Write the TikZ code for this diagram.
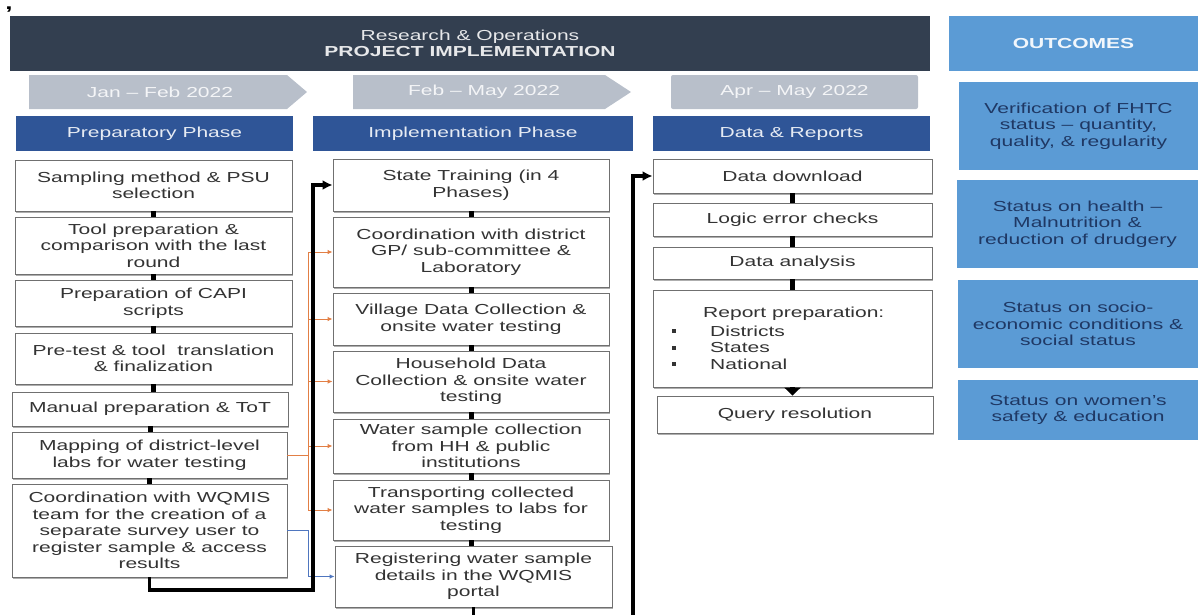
\documentclass[tikz,border=0pt]{standalone}
\usepackage{fontspec}
\setmainfont{Liberation Sans}[FakeStretch=1.45]
\usetikzlibrary{arrows.meta,shadows}
\definecolor{hdrc}{HTML}{333F50}
\definecolor{outc}{HTML}{5B9BD5}
\definecolor{outtxt}{HTML}{1F3864}
\definecolor{datec}{HTML}{B8BFCA}
\definecolor{phasec}{HTML}{2F5597}
\definecolor{boxline}{HTML}{707070}
\definecolor{boxtxt}{HTML}{333333}
\definecolor{orng}{HTML}{E27F45}
\definecolor{blu}{HTML}{4F76BF}
\begin{document}
\begin{tikzpicture}[x=1pt,y=-1pt,
  every node/.style={font={\fontsize{14.5pt}{16.5pt}\selectfont}, inner sep=0pt},
  hdrbox/.style={fill=hdrc, text=white!88!hdrc, align=center},
  outhead/.style={fill=outc, text=white!92!outc, font={\fontsize{14.5pt}{16.5pt}\selectfont\bfseries}},
  outbox/.style={fill=outc, text=outtxt, align=center},
  datetxt/.style={text=white!85!datec},
  phasebox/.style={fill=phasec, text=white!88!phasec},
  stepbox/.style={draw=boxline, line width=0.9pt, fill=white, text=boxtxt, align=center,
     drop shadow={shadow xshift=1pt, shadow yshift=-1.5pt, opacity=0.45, fill=black!70}},
  stub/.style={line width=5pt, draw=black},
  bigline/.style={line width=3.5pt, draw=black, -{Latex[length=10pt,width=10pt]}},
  oline/.style={line width=0.9pt, draw=orng},
  oarrow/.style={line width=0.9pt, draw=orng, -{Latex[length=5pt,width=4.5pt]}},
  barrow/.style={line width=0.9pt, draw=blu, -{Latex[length=5pt,width=4.5pt]}}
]
\useasboundingbox (0,0) rectangle (1200,614);
\clip (0,0) rectangle (1200,614);

% stray comma
\node[font={\fontsize{18pt}{18pt}\selectfont\bfseries}, anchor=north] (comma) at (9,7) {,};

% header
\node[hdrbox, minimum width=920pt, minimum height=55pt] (head) at (470,43.5)
  {Research \& Operations\\\textbf{PROJECT IMPLEMENTATION}};
\node[outhead, minimum width=249pt, minimum height=55pt] (outh) at (1073.5,43.5) {OUTCOMES};

% date arrows
\fill[datec] (29,75) -- (287,75) -- (307,92) -- (287,109) -- (29,109) -- cycle;
\node[datetxt] (d1) at (160,92) {Jan – Feb 2022};
\fill[datec] (353,75) -- (605,75) -- (631,92) -- (605,109) -- (353,109) -- cycle;
\node[datetxt] (d2) at (484,92) {Feb – May 2022};
\fill[datec, rounded corners=2pt] (671,75) rectangle (918,109);
\node[datetxt] (d3) at (794.5,92) {Apr – May 2022};

% phase bars
\node[phasebox, minimum width=277pt, minimum height=35pt] (p1) at (154.5,133.5) {Preparatory Phase};
\node[phasebox, minimum width=320pt, minimum height=35pt] (p2) at (473,133.5) {Implementation Phase};
\node[phasebox, minimum width=277pt, minimum height=35pt] (p3) at (791.5,133.5) {Data \& Reports};

% left column
\node[stepbox, minimum width=277pt, minimum height=51pt] (L1) at (153.5,185.5) {Sampling method \& PSU\\selection};
\node[stepbox, minimum width=277pt, minimum height=57pt] (L2) at (153.5,245.5) {Tool preparation \&\\comparison with the last\\round};
\node[stepbox, minimum width=277pt, minimum height=46pt] (L3) at (153.5,303) {Preparation of CAPI\\scripts};
\node[stepbox, minimum width=277pt, minimum height=51pt] (L4) at (153.5,358.5) {Pre-test \& tool\ \ translation\\\& finalization};
\node[stepbox, minimum width=276pt, minimum height=34pt] (L5) at (150,409) {Manual preparation \& ToT};
\node[stepbox, minimum width=275pt, minimum height=46pt] (L6) at (149.5,455) {Mapping of district-level\\labs for water testing};
\node[stepbox, minimum width=275pt, minimum height=93pt] (L7) at (149.5,530.5) {Coordination with WQMIS\\team for the creation of a\\separate survey user to\\register sample \& access\\results};

% middle column
\node[stepbox, minimum width=276pt, minimum height=52pt] (M1) at (471,185) {State Training (in 4\\Phases)};
\node[stepbox, minimum width=276pt, minimum height=70pt] (M2) at (471,252) {Coordination with district\\GP/ sub-committee \&\\Laboratory};
\node[stepbox, minimum width=276pt, minimum height=52pt] (M3) at (471,319) {Village Data Collection \&\\onsite water testing};
\node[stepbox, minimum width=276pt, minimum height=61pt] (M4) at (471,381.5) {Household Data\\Collection \& onsite water\\testing};
\node[stepbox, minimum width=276pt, minimum height=54pt] (M5) at (471,446) {Water sample collection\\from HH \& public\\institutions};
\node[stepbox, minimum width=276pt, minimum height=60pt] (M6) at (471,510) {Transporting collected\\water samples to labs for\\testing};
\node[stepbox, minimum width=277pt, minimum height=61pt] (M7) at (473.5,576.5) {Registering water sample\\details in the WQMIS\\portal};

% right column
\node[stepbox, minimum width=279pt, minimum height=34pt] (R1) at (792.5,176) {Data download};
\node[stepbox, minimum width=279pt, minimum height=33pt] (R2) at (792.5,219.5) {Logic error checks};
\node[stepbox, minimum width=279pt, minimum height=32pt] (R3) at (792.5,263) {Data analysis};
\node[stepbox, minimum width=279pt, minimum height=97pt] (R4) at (792.5,338.5) {};
\node[text=boxtxt, anchor=west] (R4t) at (703,314) {Report preparation:};
\node[fill=boxtxt, minimum size=4pt] (b1) at (674,331) {};
\node[fill=boxtxt, minimum size=4pt] (b2) at (674,347.5) {};
\node[fill=boxtxt, minimum size=4pt] (b3) at (674,364) {};
\node[text=boxtxt, anchor=west] (r41) at (710,331) {Districts};
\node[text=boxtxt, anchor=west] (r42) at (710,347.5) {States};
\node[text=boxtxt, anchor=west] (r43) at (710,364) {National};
\node[stepbox, minimum width=276pt, minimum height=37pt] (R5) at (795,414.5) {Query resolution};

% outcomes
\node[outbox, minimum width=239pt, minimum height=88pt] (O1) at (1078.5,126) {Verification of FHTC\\status – quantity,\\quality, \& regularity};
\node[outbox, minimum width=241pt, minimum height=88pt] (O2) at (1077.5,224) {Status on health –\\Malnutrition \&\\reduction of drudgery};
\node[outbox, minimum width=240pt, minimum height=88pt] (O3) at (1078,324) {Status on socio-\\economic conditions \&\\social status};
\node[outbox, minimum width=240pt, minimum height=60pt] (O4) at (1078,410) {Status on women’s\\safety \& education};

% stubs (vertical, from the upper box's centre)
\foreach \a/\b in {L1/L2,L2/L3,L3/L4,L4/L5,L5/L6,L6/L7,M1/M2,M2/M3,M3/M4,M4/M5,M5/M6,M6/M7,R1/R2,R2/R3,R3/R4}
  \draw[stub] (\a.south) -- (\a.south |- \b.north);
\draw[stub, -{Triangle[length=8pt,width=16pt]}] (R4.south) -- (R4.south |- R5.north);

% orange and blue feeds
\coordinate (obus) at (308,0);
\draw[oline] (L6.east) -- (L6.east -| obus);
\draw[oline] (M2.west -| obus) -- (M6.west -| obus);
\foreach \n in {M2,M3,M4,M5,M6}
  \draw[oarrow] (\n.west -| obus) -- (\n.west);
\draw[barrow] (L7.east) -- (L7.east -| obus) -- (M7.west -| obus) -- (M7.west);

% long black connectors
\coordinate (lturn) at (313,590);
\draw[bigline] (L7.south) |- (lturn) |- (M1.west);
\coordinate (rturn) at (633,640);
\draw[bigline] (M7.south) |- (rturn) |- (R1.west);
\end{tikzpicture}
\end{document}
